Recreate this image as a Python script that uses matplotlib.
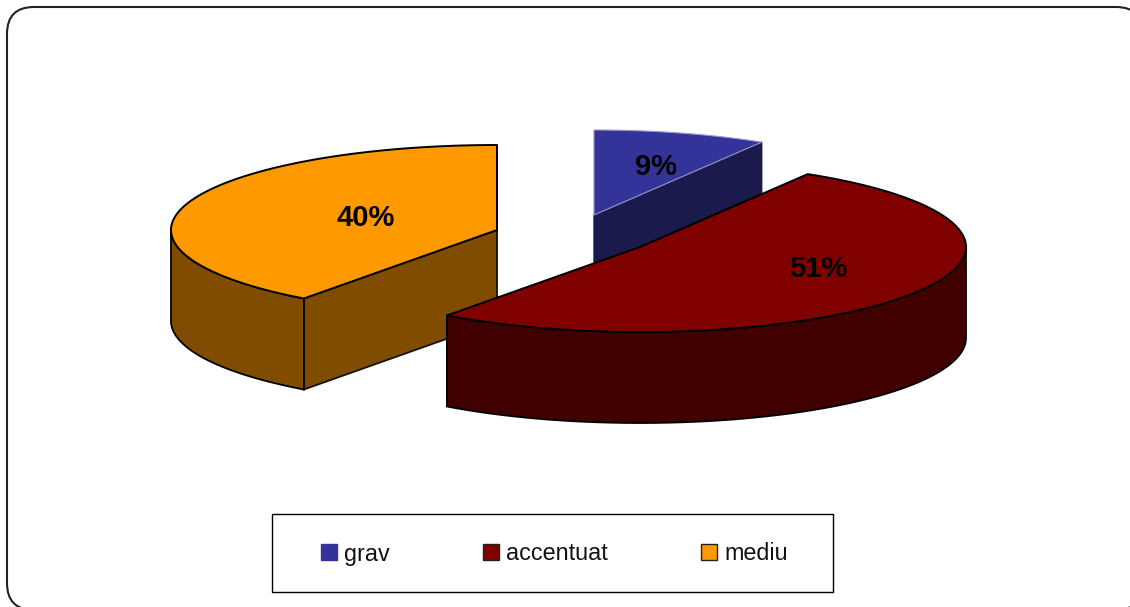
import numpy as np
import matplotlib
matplotlib.use("Agg")
import matplotlib.pyplot as plt
from matplotlib.patches import FancyBboxPatch, Rectangle, Patch

categories = ["grav", "accentuat", "mediu"]
shares = [8.6, 51.49, 39.91]

top_colors = ["#333399", "#800000", "#FF9900"]
side_colors = ["#1A1A4D", "#400000", "#804D00"]
edge_colors = ["#9999CC", "black", "black"]
side_edges = ["#1A1A4D", "black", "black"]

# pixel layout of the exploded 3d pie
centers = [(594, 215), (640, 247), (497, 230)]
label_pos = [(656, 167), (818, 269), (366, 218)]
rx, ry, depth = 326, 85, 91

plt.rcParams["font.family"] = ["Liberation Sans", "DejaVu Sans"]

fig = plt.figure(figsize=(11.3, 6.07), dpi=100)
ax = fig.add_axes([0, 0, 1, 1])
ax.set_xlim(0, 1130)
ax.set_ylim(607, 0)
ax.axis("off")

ax.add_patch(FancyBboxPatch((27, 27), 1096, 563, boxstyle="round,pad=20,rounding_size=27",
                            fc="white", ec="#222222", lw=1.5, clip_on=True))


def arc(cx, cy, a0, a1):
    t = np.radians(np.linspace(a0, a1, max(int(abs(a1 - a0)), 2)))
    return cx + rx * np.sin(t), cy - ry * np.cos(t)


ends = np.cumsum(shares) / sum(shares) * 360
starts = np.r_[0, ends[:-1]]

# back to front: blue first, red covers the cut faces of the others
for i in [0, 2, 1]:
    cx, cy = centers[i]
    a0, a1 = starts[i], ends[i]
    ec, sc = edge_colors[i], side_colors[i]

    # flat cut faces that look towards the viewer
    if i == 0:
        x1, y1 = arc(cx, cy, a1, a1)
        x1, y1 = x1[0], y1[0]
        ax.fill([cx, x1, x1, cx], [cy, y1, y1 + depth, cy + depth],
                fc=sc, ec=side_edges[i], lw=1)
    if i == 2:
        x1, y1 = arc(cx, cy, a0, a0)
        x1, y1 = x1[0], y1[0]
        ax.fill([cx, x1, x1, cx], [cy, y1, y1 + depth, cy + depth],
                fc=sc, ec="#111111", lw=1.3)

    # outer wall, only the front half of the ellipse shows
    s0, s1 = max(a0, 90), min(a1, 270)
    if s1 > s0:
        xs, ys = arc(cx, cy, s0, s1)
        ax.fill(np.r_[xs, xs[::-1]], np.r_[ys, ys[::-1] + depth],
                fc=sc, ec=side_edges[i], lw=1.3)

    xs, ys = arc(cx, cy, a0, a1)
    ax.fill(np.r_[cx, xs], np.r_[cy, ys], fc=top_colors[i], ec=ec,
            lw=1.4 if i else 0.8, joinstyle="round")

for i, (x, y) in enumerate(label_pos):
    ax.text(x, y, f"{shares[i]:.0f}%", ha="center", va="center",
            fontsize=21, fontweight="bold", color="black")

# legend box is wider than the entries, so the frame is drawn apart
ax.add_patch(Rectangle((272, 514), 561, 78, fc="white", ec="black", lw=1))
handles = [Patch(fc=top_colors[i], ec="#333399" if i == 0 else "#222222", lw=1, label=categories[i])
           for i in range(3)]
ax.legend(handles=handles, ncols=3, loc="center", bbox_to_anchor=(554.5, 554),
          bbox_transform=ax.transData, frameon=False, fontsize=16.8,
          handlelength=0.68, handleheight=0.68, handletextpad=0.3, columnspacing=4.0,
          labelcolor="#111111")

plt.savefig("out.png", dpi=100)
